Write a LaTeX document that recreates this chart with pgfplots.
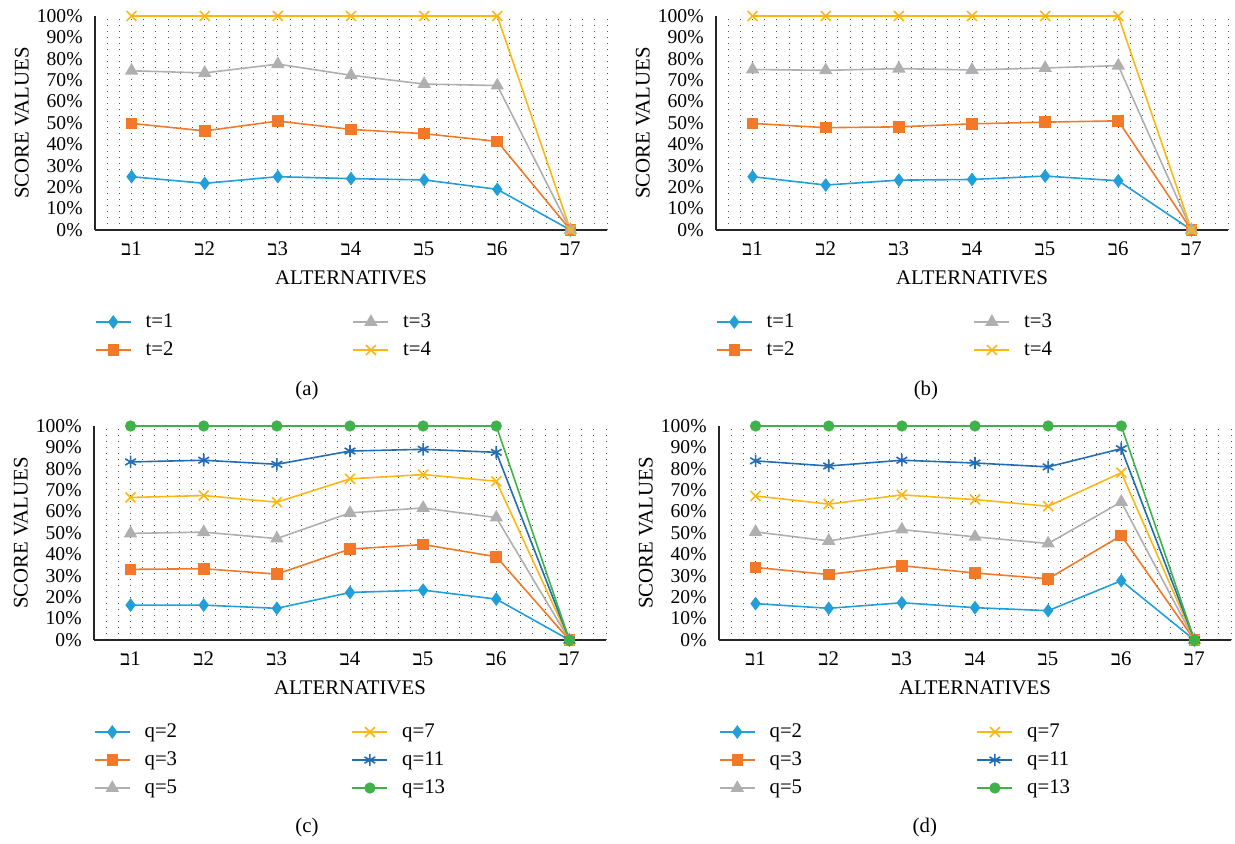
\documentclass[border=0pt]{standalone}
\usepackage{fontspec}
\setmainfont{Liberation Serif}
\usepackage{pgfplots}
\pgfplotsset{compat=1.18}
\definecolor{cA}{RGB}{34,158,217}
\definecolor{cB}{RGB}{243,121,40}
\definecolor{cC}{RGB}{175,175,178}
\definecolor{cD}{RGB}{252,183,20}
\definecolor{cE}{RGB}{33,108,178}
\definecolor{cF}{RGB}{64,178,74}
\newcommand{\bet}[1]{\mbox{ב}#1}
\newcommand{\fs}{\fontsize{9.8}{11.5}\selectfont}
\newcommand{\fl}{\fontsize{10.4}{12}\selectfont}
\pgfplotsset{
 panel/.style={
  scale only axis, width=256pt, height=107pt,
  xmin=0.5, xmax=7.5, ymin=0, ymax=100,
  axis x line*=bottom, axis y line*=left,
  axis line style={line width=0.9pt, black!85, -},
  xtick={1,2,3,4,5,6,7},
  xticklabels={\bet1,\bet2,\bet3,\bet4,\bet5,\bet6,\bet7},
  minor xtick={0.5,0.666667,...,7.45},
  ytick={0,10,...,100},
  yticklabel={\pgfmathprintnumber{\tick}\%},
  /pgf/number format/assume math mode=true,
  major tick length=0pt, minor tick length=0pt,
  xminorgrids, xmajorgrids,
  grid style={line width=0.5pt, black!70, dash pattern=on 0.7pt off 2.3pt},
  minor grid style={line width=0.5pt, black!70, dash pattern=on 0.7pt off 2.3pt},
  major grid style={line width=0.5pt, black!70, dash pattern=on 0.7pt off 2.3pt},
  tick label style={font=\fs},
  xticklabel style={anchor=center, inner sep=0pt, yshift=-9.5pt, font=\fl},
  yticklabel style={anchor=east, inner sep=0pt, xshift=-6pt},
  xlabel={ALTERNATIVES}, ylabel={SCORE VALUES},
  xlabel style={at={(axis description cs:0.5,-0.224)}, anchor=center, font=\fl},
  ylabel style={at={(axis description cs:-0.143,0.5)}, anchor=center, font=\fl},
  clip=false,
  legend cell align=left,
  legend style={at={(axis description cs:0,-0.388)}, anchor=north west, draw=none, fill=none,
    inner sep=0pt, outer sep=0pt, column sep=0pt, row sep=5pt, font=\fl,
    nodes={inner sep=0pt, text height=7pt, text depth=2pt}},
  legend image code/.code={\draw[mark repeat=2,mark phase=2,##1] plot coordinates {(0pt,0pt)(8.75pt,0pt)(17.5pt,0pt)};},
 },
 every axis plot/.append style={line width=0.8pt},
 s1/.style={color=cA, mark=diamond*, mark size=2.8pt},
 s2/.style={color=cB, mark=square*, mark size=2.5pt},
 s3/.style={color=cC, mark=triangle*, mark size=3.1pt},
 s4/.style={color=cD, mark=x, mark size=3.5pt},
 s5/.style={color=cE, mark=asterisk, mark size=3.1pt},
 s6/.style={color=cF, mark=*, mark size=2.4pt},
}
\newcommand{\lent}[1]{\hspace{7pt}\makebox[103.5pt][l]{#1}}
\begin{document}
\begin{tikzpicture}
\useasboundingbox (0,0) rectangle (617.5pt,422pt);
% (a)
\begin{axis}[panel, at={(47.5pt,307pt)}, anchor=south west, legend columns=2, transpose legend]
\addplot[s1] coordinates {(1,24.9)(2,21.8)(3,24.9)(4,24.0)(5,23.4)(6,19.0)(7,0)};
\addlegendentry{\lent{t=1}}
\addplot[s2] coordinates {(1,49.8)(2,46.3)(3,50.9)(4,47.0)(5,45.0)(6,41.4)(7,0)};
\addlegendentry{\lent{t=2}}
\addplot[s3] coordinates {(1,74.4)(2,73.4)(3,77.5)(4,72.3)(5,68.2)(6,67.5)(7,0)};
\addlegendentry{\lent{t=3}}
\addplot[s4] coordinates {(1,100)(2,100)(3,100)(4,100)(5,100)(6,100)(7,0)};
\addlegendentry{\lent{t=4}}
\node[font=\fl] at (axis description cs:0.414,-0.748) {(a)};
\end{axis}
% (b)
\begin{axis}[panel, at={(358pt,307pt)}, anchor=south west, legend columns=2, transpose legend]
\addplot[s1] coordinates {(1,24.9)(2,21.0)(3,23.3)(4,23.6)(5,25.2)(6,23.0)(7,0)};
\addlegendentry{\lent{t=1}}
\addplot[s2] coordinates {(1,49.8)(2,47.8)(3,48.2)(4,49.6)(5,50.4)(6,51.0)(7,0)};
\addlegendentry{\lent{t=2}}
\addplot[s3] coordinates {(1,75.0)(2,74.6)(3,75.4)(4,74.8)(5,75.7)(6,76.8)(7,0)};
\addlegendentry{\lent{t=3}}
\addplot[s4] coordinates {(1,100)(2,100)(3,100)(4,100)(5,100)(6,100)(7,0)};
\addlegendentry{\lent{t=4}}
\node[font=\fl] at (axis description cs:0.41,-0.748) {(b)};
\end{axis}
% (c)
\begin{axis}[panel, at={(47pt,102pt)}, anchor=south west, legend columns=3, transpose legend]
\addplot[s1] coordinates {(1,16.3)(2,16.3)(3,14.8)(4,22.2)(5,23.3)(6,19.1)(7,0)};
\addlegendentry{\lent{q=2}}
\addplot[s2] coordinates {(1,33.0)(2,33.3)(3,30.8)(4,42.5)(5,44.6)(6,38.9)(7,0)};
\addlegendentry{\lent{q=3}}
\addplot[s3] coordinates {(1,49.8)(2,50.4)(3,47.4)(4,59.4)(5,61.7)(6,57.2)(7,0)};
\addlegendentry{\lent{q=5}}
\addplot[s4] coordinates {(1,66.6)(2,67.5)(3,64.4)(4,75.3)(5,77.3)(6,74.2)(7,0)};
\addlegendentry{\lent{q=7}}
\addplot[s5] coordinates {(1,83.2)(2,84.0)(3,82.1)(4,88.3)(5,89.1)(6,87.7)(7,0)};
\addlegendentry{\lent{q=11}}
\addplot[s6] coordinates {(1,100)(2,100)(3,100)(4,100)(5,100)(6,100)(7,0)};
\addlegendentry{\lent{q=13}}
\node[font=\fl] at (axis description cs:0.416,-0.874) {(c)};
\end{axis}
% (d)
\begin{axis}[panel, at={(359.5pt,102pt)}, anchor=south west, legend columns=3, transpose legend]
\addplot[s1] coordinates {(1,17.0)(2,14.8)(3,17.4)(4,15.1)(5,13.7)(6,27.7)(7,0)};
\addlegendentry{\lent{q=2}}
\addplot[s2] coordinates {(1,33.9)(2,30.6)(3,34.7)(4,31.3)(5,28.6)(6,48.8)(7,0)};
\addlegendentry{\lent{q=3}}
\addplot[s3] coordinates {(1,50.5)(2,46.3)(3,51.6)(4,48.2)(5,45.1)(6,64.5)(7,0)};
\addlegendentry{\lent{q=5}}
\addplot[s4] coordinates {(1,67.3)(2,63.5)(3,67.8)(4,65.6)(5,62.5)(6,78.2)(7,0)};
\addlegendentry{\lent{q=7}}
\addplot[s5] coordinates {(1,83.7)(2,81.3)(3,84.0)(4,82.7)(5,80.9)(6,89.4)(7,0)};
\addlegendentry{\lent{q=11}}
\addplot[s6] coordinates {(1,100)(2,100)(3,100)(4,100)(5,100)(6,100)(7,0)};
\addlegendentry{\lent{q=13}}
\node[font=\fl] at (axis description cs:0.402,-0.874) {(d)};
\end{axis}
\end{tikzpicture}
\end{document}
